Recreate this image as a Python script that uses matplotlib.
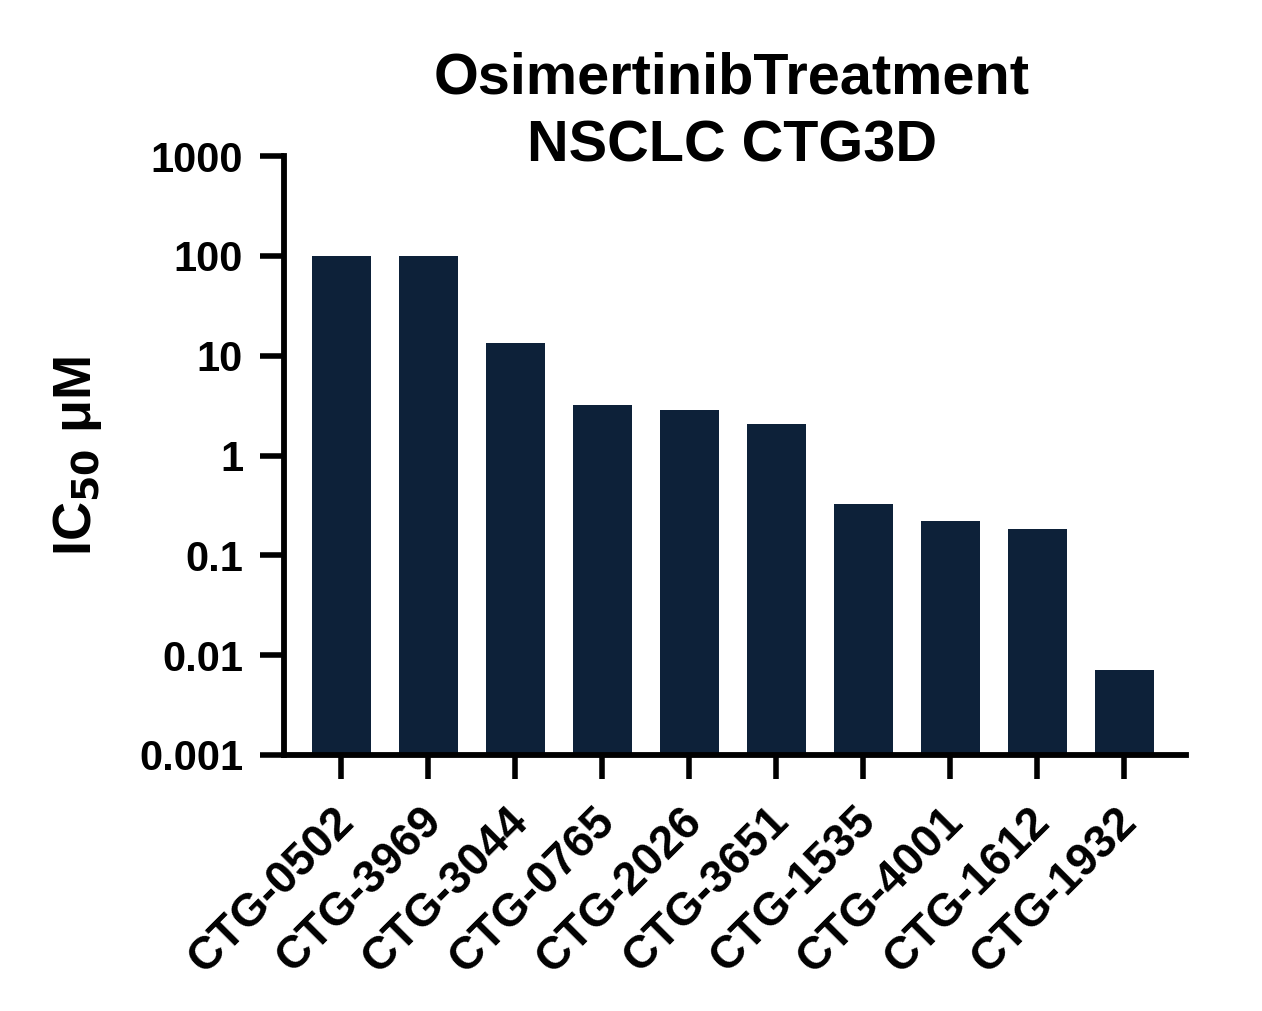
import matplotlib.pyplot as plt
import matplotlib.transforms as mtransforms
import numpy as np
from matplotlib.ticker import FixedLocator, FixedFormatter, NullLocator

plt.rcParams['font.family'] = ['Liberation Sans', 'DejaVu Sans']
plt.rcParams['font.weight'] = 'bold'

# data (IC50, uM)
cell_lines = ['CTG-0502', 'CTG-3969', 'CTG-3044', 'CTG-0765', 'CTG-2026',
              'CTG-3651', 'CTG-1535', 'CTG-4001', 'CTG-1612', 'CTG-1932']
ic50 = [100, 100, 13.5, 3.24, 2.88, 2.09, 0.33, 0.219, 0.182, 0.0071]
ytick_vals = [0.001, 0.01, 0.1, 1, 10, 100, 1000]
ytick_labels = ['0.001', '0.01', '0.1', '1', '10', '100', '1000']

bar_color = '#0d2139'

fig = plt.figure(figsize=(12.62, 10.11), dpi=100)
ax = fig.add_axes([284/1262, 1 - 755/1011, (1186-284)/1262, (755-156)/1011])

x = np.arange(len(cell_lines))
ax.set_yscale('log')
ax.bar(x, ic50, width=0.68, color=bar_color, zorder=2)

ax.set_ylim(0.001, 1000)
ax.set_xlim(-0.66, 9.71)
ax.yaxis.set_major_locator(FixedLocator(ytick_vals))
ax.yaxis.set_major_formatter(FixedFormatter(ytick_labels))
ax.yaxis.set_minor_locator(NullLocator())
ax.set_xticks(x)

for s in ['top', 'right']:
    ax.spines[s].set_visible(False)
for s in ['left', 'bottom']:
    ax.spines[s].set_linewidth(4.2)
    ax.spines[s].set_capstyle('projecting')

ax.tick_params(axis='both', width=4, length=17, direction='out')
ax.tick_params(axis='y', labelsize=30, pad=12.5)
ax.tick_params(axis='x', labelsize=33, pad=26)

ax.set_xticklabels(cell_lines, rotation=45, ha='right', va='center',
                   rotation_mode='anchor', fontsize=33, fontweight='bold')
shift = mtransforms.ScaledTranslation(6/100, 0, fig.dpi_scale_trans)
for lab in ax.get_xticklabels():
    lab.set_transform(lab.get_transform() + shift)
for lab in ax.get_yticklabels():
    lab.set_fontweight('bold')

ax.set_ylabel('IC$_{\\mathbf{50}}$ \u03bcM', fontsize=39, fontweight='bold', labelpad=25)

cx = 732/1262
fig.text(cx, 1 - 93/1011, 'OsimertinibTreatment', ha='center', va='baseline',
         fontsize=41.5, fontweight='bold')
fig.text(cx, 1 - 162/1011, 'NSCLC CTG3D', ha='center', va='baseline',
         fontsize=41.5, fontweight='bold')

fig.savefig('out.png', dpi=100)
